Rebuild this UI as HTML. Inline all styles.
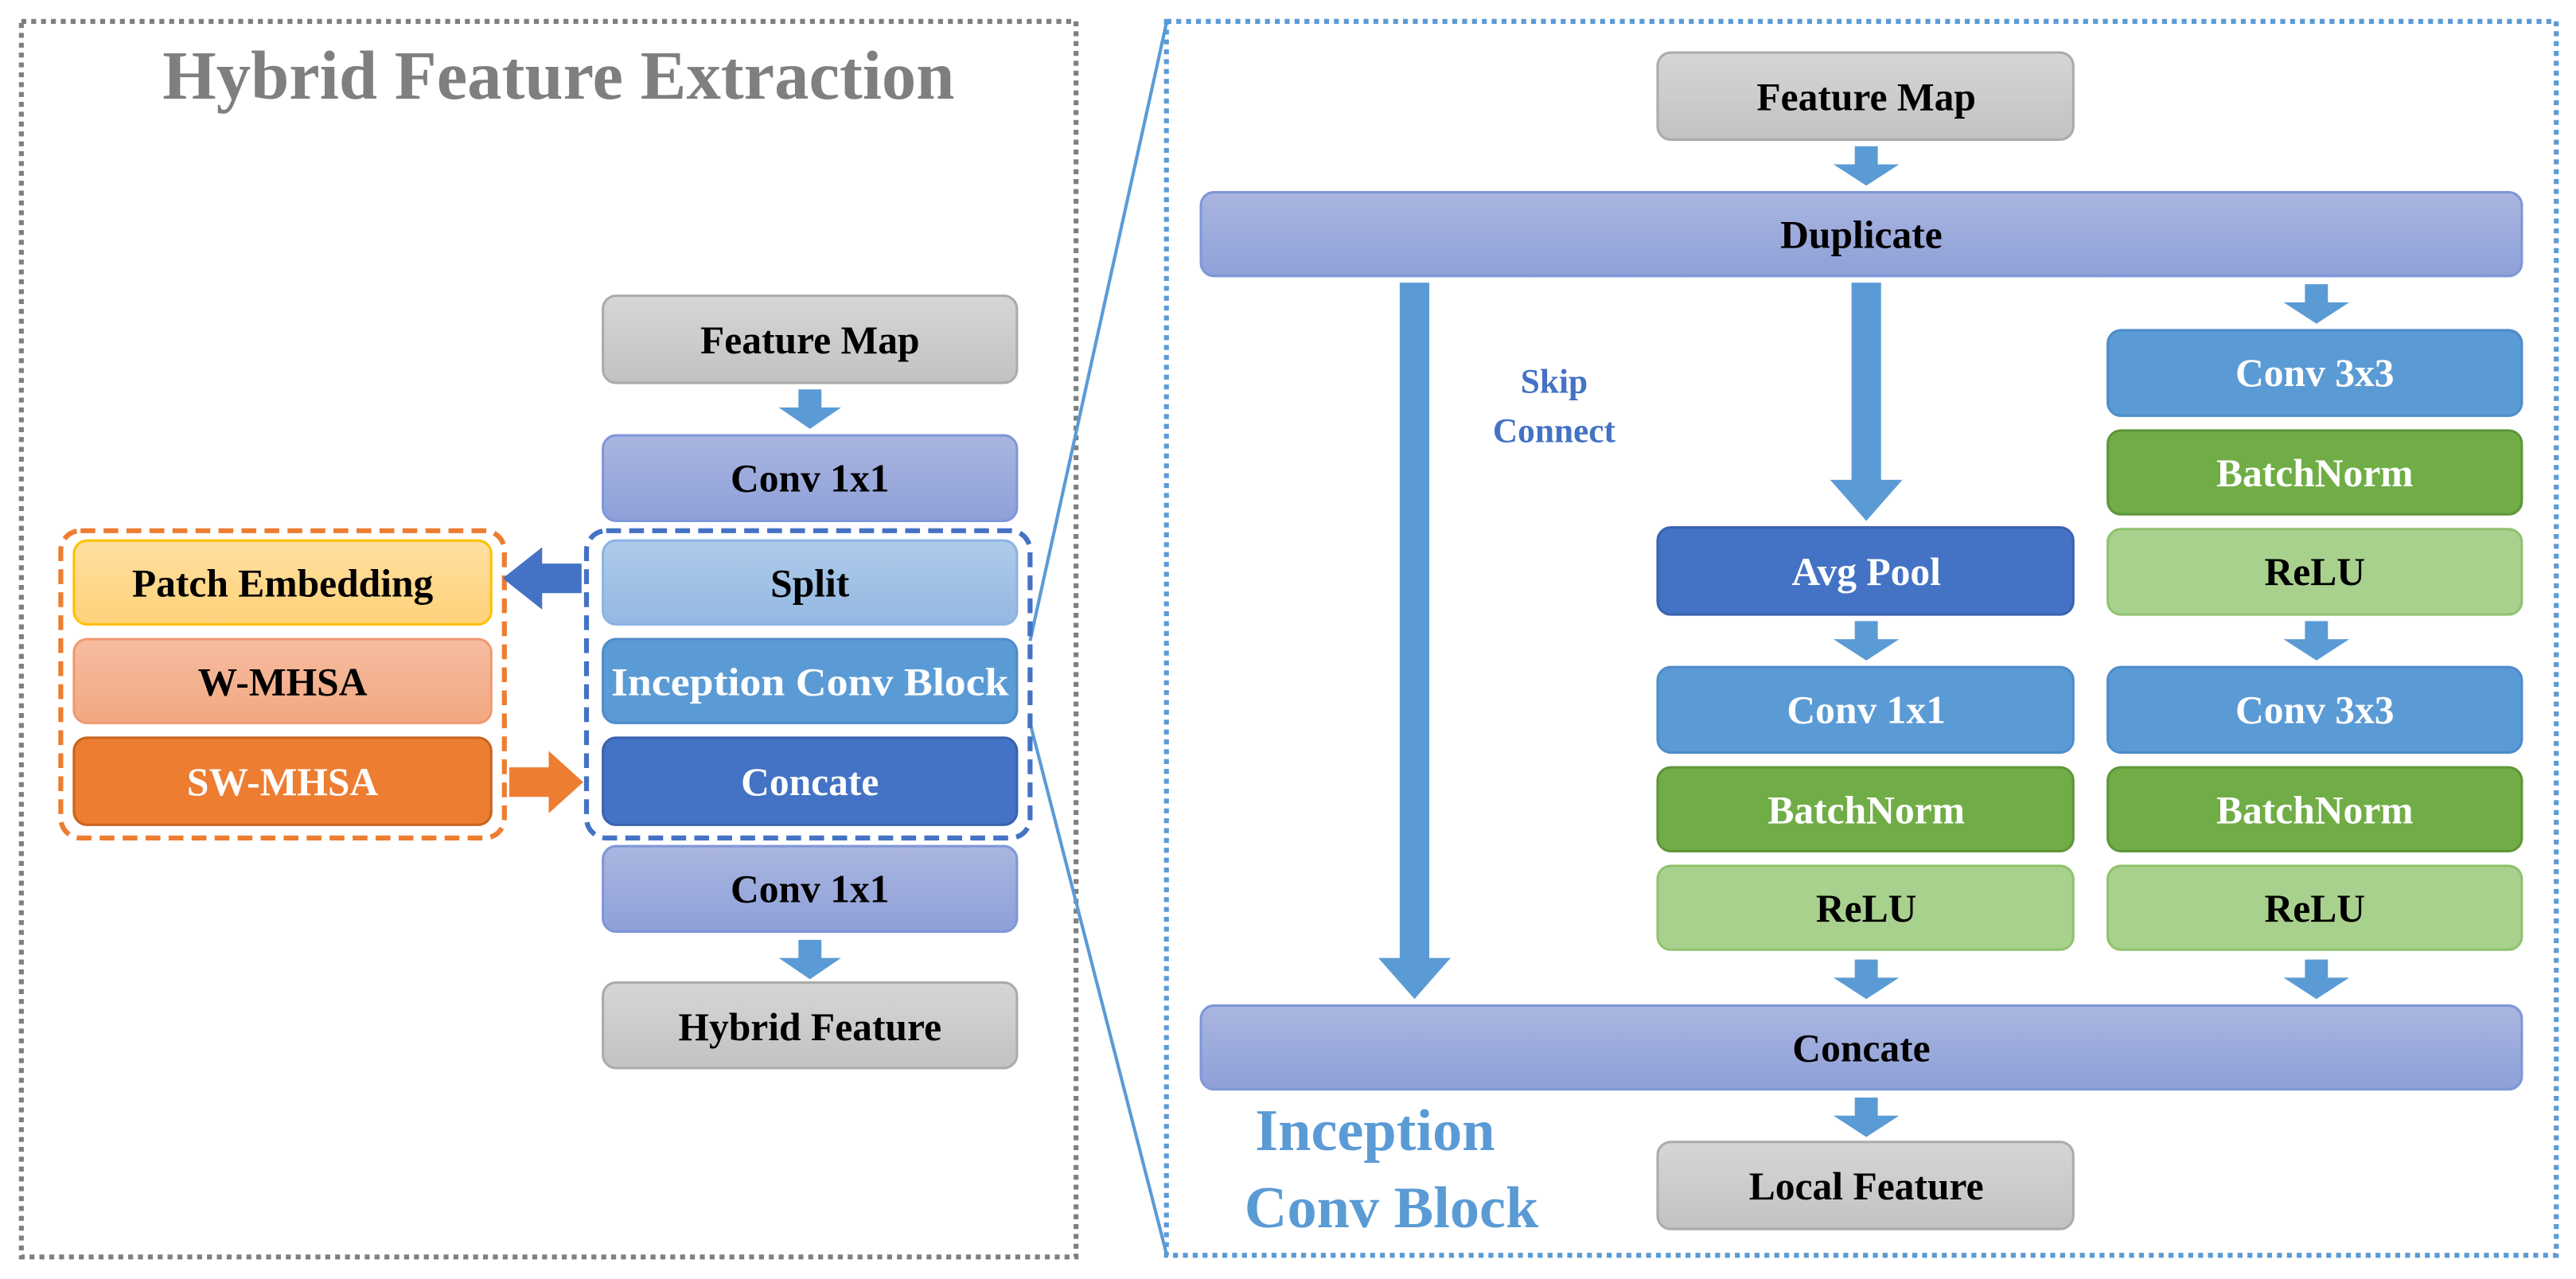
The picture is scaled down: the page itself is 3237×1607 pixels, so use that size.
<!DOCTYPE html>
<html><head><meta charset="utf-8">
<style>
html,body{margin:0;padding:0;background:#fff;}
svg{display:block;}
text{font-family:"Liberation Serif",serif;font-weight:bold;}
</style></head><body>
<svg width="3237" height="1607" viewBox="0 0 1568 778.4" xmlns="http://www.w3.org/2000/svg">
<defs>
<linearGradient id="gray" x1="0" y1="0" x2="0" y2="1"><stop offset="0" stop-color="#D6D6D6"/><stop offset="1" stop-color="#C2C2C2"/></linearGradient>
<linearGradient id="purp" x1="0" y1="0" x2="0" y2="1"><stop offset="0" stop-color="#AAB6E0"/><stop offset="1" stop-color="#8EA0D8"/></linearGradient>
<linearGradient id="split" x1="0" y1="0" x2="0" y2="1"><stop offset="0" stop-color="#AFCBEA"/><stop offset="1" stop-color="#94B8E2"/></linearGradient>
<linearGradient id="patch" x1="0" y1="0" x2="0" y2="1"><stop offset="0" stop-color="#FFDFA0"/><stop offset="1" stop-color="#FFD27A"/></linearGradient>
<linearGradient id="wm" x1="0" y1="0" x2="0" y2="1"><stop offset="0" stop-color="#F6BCA0"/><stop offset="1" stop-color="#F2A882"/></linearGradient>
</defs>

<rect x="13" y="13" width="642" height="752" fill="none" stroke="#7F7F7F" stroke-width="3" stroke-dasharray="3,3"/>
<rect x="710" y="13" width="846" height="751" fill="none" stroke="#5B9BD5" stroke-width="3" stroke-dasharray="3,3"/>

<text x="340" y="60" font-size="42" fill="#7F7F7F" text-anchor="middle">Hybrid Feature Extraction</text>

<line x1="627" y1="390" x2="710" y2="14" stroke="#5B9BD5" stroke-width="2"/>
<line x1="627" y1="440" x2="710" y2="763" stroke="#5B9BD5" stroke-width="2"/>

<g font-size="24" text-anchor="middle">
<rect x="367" y="180" width="252" height="53" rx="8" fill="url(#gray)" stroke="#ABABAB" stroke-width="1.5"/>
<text x="493" y="215">Feature Map</text>
<rect x="367" y="265" width="252" height="52" rx="8" fill="url(#purp)" stroke="#7F97D8" stroke-width="1.5"/>
<text x="493" y="299">Conv 1x1</text>
<rect x="367" y="329" width="252" height="51" rx="8" fill="url(#split)" stroke="#8DB4E2" stroke-width="1.5"/>
<text x="493" y="363">Split</text>
<rect x="367" y="389" width="252" height="51" rx="8" fill="#5B9BD5" stroke="#4F8CC9" stroke-width="1.5"/>
<text x="493" y="423" fill="#fff" textLength="242" lengthAdjust="spacingAndGlyphs">Inception Conv Block</text>
<rect x="367" y="449" width="252" height="53" rx="8" fill="#4472C4" stroke="#3A62AE" stroke-width="1.5"/>
<text x="493" y="484" fill="#fff">Concate</text>
<rect x="367" y="515" width="252" height="52" rx="8" fill="url(#purp)" stroke="#7F97D8" stroke-width="1.5"/>
<text x="493" y="549">Conv 1x1</text>
<rect x="367" y="598" width="252" height="52" rx="8" fill="url(#gray)" stroke="#ABABAB" stroke-width="1.5"/>
<text x="493" y="633">Hybrid Feature</text>

<rect x="45" y="329" width="254" height="51" rx="8" fill="url(#patch)" stroke="#FFC000" stroke-width="1.5"/>
<text x="172" y="363">Patch Embedding</text>
<rect x="45" y="389" width="254" height="51" rx="8" fill="url(#wm)" stroke="#EE9A70" stroke-width="1.5"/>
<text x="172" y="423">W-MHSA</text>
<rect x="45" y="449" width="254" height="53" rx="8" fill="#ED7D31" stroke="#C8651F" stroke-width="1.5"/>
<text x="172" y="484" fill="#fff">SW-MHSA</text>
</g>
<rect x="37" y="323" width="270" height="187" rx="12" fill="none" stroke="#ED7D31" stroke-width="3" stroke-dasharray="9,5"/>
<rect x="357" y="323" width="270" height="187" rx="12" fill="none" stroke="#4472C4" stroke-width="3" stroke-dasharray="9,5"/>

<polygon points="354,343 330,343 330,333 306,352 330,371 330,361 354,361" fill="#4472C4"/>
<polygon points="310,467 334,467 334,457 355,476 334,495 334,485 310,485" fill="#ED7D31"/>

<g fill="#5B9BD5">
<polygon points="486,237 500,237 500,248 512,248 493,261 474,248 486,248"/>
<polygon points="486,572 500,572 500,583 512,583 493,596 474,583 486,583"/>
<polygon points="1129,89 1143,89 1143,100 1156,100 1136,113 1116,100 1129,100"/>
<polygon points="1403,173 1417,173 1417,184 1430,184 1410,197 1390,184 1403,184"/>
<polygon points="1403,378 1417,378 1417,389 1430,389 1410,402 1390,389 1403,389"/>
<polygon points="1403,584 1417,584 1417,595 1430,595 1410,608 1390,595 1403,595"/>
<polygon points="1129,378 1143,378 1143,389 1156,389 1136,402 1116,389 1129,389"/>
<polygon points="1129,584 1143,584 1143,595 1156,595 1136,608 1116,595 1129,595"/>
<polygon points="1129,668 1143,668 1143,679 1156,679 1136,692 1116,679 1129,679"/>
<polygon points="1127,172 1145,172 1145,292 1158,292 1136,317 1114,292 1127,292"/>
<polygon points="852,172 870,172 870,583 883,583 861,608 839,583 852,583"/>
</g>

<g font-size="24" text-anchor="middle">
<rect x="1009" y="32" width="253" height="53" rx="8" fill="url(#gray)" stroke="#ABABAB" stroke-width="1.5"/>
<text x="1136" y="67">Feature Map</text>
<rect x="731" y="117" width="804" height="51" rx="8" fill="url(#purp)" stroke="#7F97D8" stroke-width="1.5"/>
<text x="1133" y="151">Duplicate</text>
<rect x="731" y="612" width="804" height="51" rx="8" fill="url(#purp)" stroke="#7F97D8" stroke-width="1.5"/>
<text x="1133" y="646">Concate</text>
<rect x="1009" y="695" width="253" height="53" rx="8" fill="url(#gray)" stroke="#ABABAB" stroke-width="1.5"/>
<text x="1136" y="730">Local Feature</text>

<rect x="1009" y="321" width="253" height="53" rx="8" fill="#4472C4" stroke="#3A62AE" stroke-width="1.5"/>
<text x="1136" y="356" fill="#fff">Avg Pool</text>
<rect x="1009" y="406" width="253" height="52" rx="8" fill="#5B9BD5" stroke="#4F8CC9" stroke-width="1.5"/>
<text x="1136" y="440" fill="#fff">Conv 1x1</text>
<rect x="1009" y="467" width="253" height="51" rx="8" fill="#70AD47" stroke="#5E963A" stroke-width="1.5"/>
<text x="1136" y="501" fill="#fff">BatchNorm</text>
<rect x="1009" y="527" width="253" height="51" rx="8" fill="#A9D18E" stroke="#8FC26E" stroke-width="1.5"/>
<text x="1136" y="561">ReLU</text>

<rect x="1283" y="201" width="252" height="52" rx="8" fill="#5B9BD5" stroke="#4F8CC9" stroke-width="1.5"/>
<text x="1409" y="235" fill="#fff">Conv 3x3</text>
<rect x="1283" y="262" width="252" height="51" rx="8" fill="#70AD47" stroke="#5E963A" stroke-width="1.5"/>
<text x="1409" y="296" fill="#fff">BatchNorm</text>
<rect x="1283" y="322" width="252" height="52" rx="8" fill="#A9D18E" stroke="#8FC26E" stroke-width="1.5"/>
<text x="1409" y="356">ReLU</text>
<rect x="1283" y="406" width="252" height="52" rx="8" fill="#5B9BD5" stroke="#4F8CC9" stroke-width="1.5"/>
<text x="1409" y="440" fill="#fff">Conv 3x3</text>
<rect x="1283" y="467" width="252" height="51" rx="8" fill="#70AD47" stroke="#5E963A" stroke-width="1.5"/>
<text x="1409" y="501" fill="#fff">BatchNorm</text>
<rect x="1283" y="527" width="252" height="51" rx="8" fill="#A9D18E" stroke="#8FC26E" stroke-width="1.5"/>
<text x="1409" y="561">ReLU</text>
</g>

<text x="946" y="239" font-size="21" fill="#4472C4" text-anchor="middle">Skip</text>
<text x="946" y="269" font-size="21" fill="#4472C4" text-anchor="middle">Connect</text>

<text x="837" y="700" font-size="36" fill="#5B9BD5" text-anchor="middle">Inception</text>
<text x="847" y="747" font-size="36" fill="#5B9BD5" text-anchor="middle">Conv Block</text>
</svg>
</body></html>
